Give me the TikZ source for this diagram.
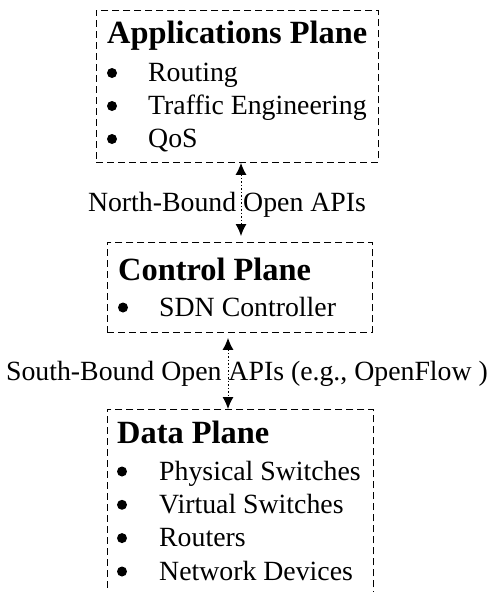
\documentclass[tikz,border=0pt]{standalone}
\usepackage{fontspec}
\setmainfont{Liberation Serif}
\usetikzlibrary{arrows.meta}
\begin{document}
\begin{tikzpicture}[x=1pt,y=-1pt,
  planebox/.style={draw, dash pattern=on 7pt off 4pt, line width=0.9pt, rectangle, inner sep=0pt, anchor=north west},
  ptitle/.style={font=\fontsize{32.4}{36}\selectfont\bfseries, anchor=base west, inner sep=0pt},
  item/.style={font=\fontsize{27.8}{32}\selectfont, anchor=base west, inner sep=0pt},
  bul/.style={circle, fill=black, inner sep=0pt, minimum size=10pt},
  api/.style={font=\fontsize{27.8}{32}\selectfont, anchor=base, inner sep=0pt},
  arr/.style={line width=1pt, dash pattern=on 1.5pt off 2pt, {Latex[length=12pt,width=11pt]}-{Latex[length=12pt,width=11pt]}}
]
\useasboundingbox (0,0) rectangle (496,592);
\clip (0,0) rectangle (496,592);
% boxes
\node[planebox, minimum width=282pt, minimum height=152pt] (apps) at (96,10) {};
\node[planebox, minimum width=265pt, minimum height=90pt] (ctrl) at (107,242) {};
\node[planebox, minimum width=266pt, minimum height=220pt] (data) at (107,409) {};
% applications plane
\node[ptitle] (appst) at (107,43) {Applications Plane};
\node[bul] (ab1) at (112,73) {};
\node[item] (ai1) at (148,81.5) {Routing};
\node[bul] (ab2) at (112,106) {};
\node[item] (ai2) at (148,114.5) {Traffic Engineering};
\node[bul] (ab3) at (112,139) {};
\node[item] (ai3) at (148,147.5) {QoS};
% control plane
\node[ptitle] (ctrlt) at (118,280) {Control Plane};
\node[bul] (cb1) at (123,307.5) {};
\node[item] (ci1) at (159,316) {SDN Controller};
% data plane
\node[ptitle] (datat) at (117,443) {Data Plane};
\node[bul] (db1) at (122,471.5) {};
\node[item] (di1) at (159,480) {Physical Switches};
\node[bul] (db2) at (122,504.8) {};
\node[item] (di2) at (159,513.3) {Virtual Switches};
\node[bul] (db3) at (122,538.1) {};
\node[item] (di3) at (159,546.6) {Routers};
\node[bul] (db4) at (122,571.5) {};
\node[item] (di4) at (159,580) {Network Devices};
% labels
\node[api] (nb) at (227,211) {North-Bound Open APIs};
\node[api] (sb) at (247,380) {South-Bound Open APIs (e.g., OpenFlow )};
% connectors
\coordinate (x1) at (241,0);
\coordinate (x2) at (228,0);
\draw[arr, shorten >=6pt] (apps.south -| x1) -- (ctrl.north -| x1);
\draw[arr, shorten <=5pt] (ctrl.south -| x2) -- (data.north -| x2);
\end{tikzpicture}
\end{document}
